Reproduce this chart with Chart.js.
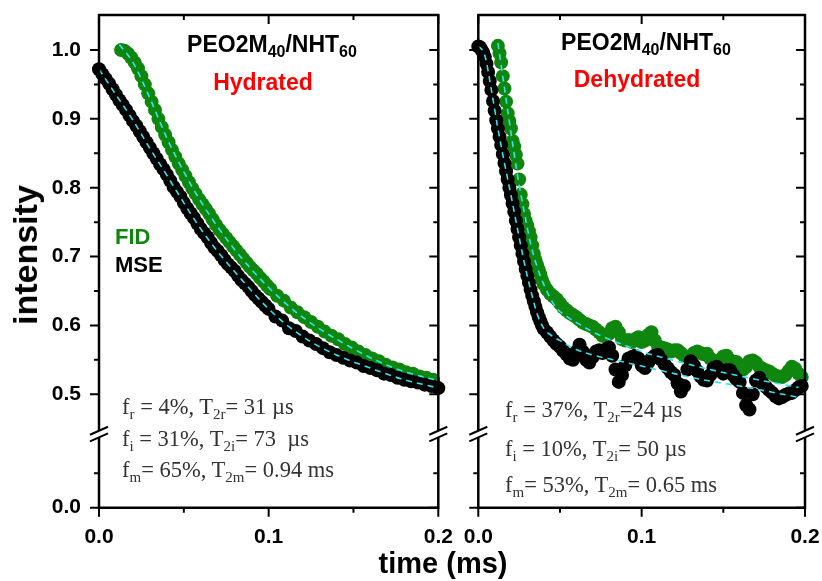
<!DOCTYPE html>
<html>
<head>
<meta charset="utf-8">
<script src="https://cdn.jsdelivr.net/npm/chart.js@4.4.1/dist/chart.umd.min.js"></script>
<style>
    body { margin: 0; background: #fff; width: 822px; height: 581px; overflow: hidden; position: relative;
           font-family: 'Liberation Sans', Arial, sans-serif; }
    canvas { position: absolute; top: 0; }
    #hydCanvas { left: 0; }
    #dehCanvas { left: 450px; }
    .lbl { position: absolute; white-space: nowrap; font-weight: bold; line-height: 1; }
    .lbl sub { font-size: 16px; vertical-align: baseline; position: relative; top: 5px; line-height: 0; }
    .center { transform: translateX(-50%); }
    .note { position: absolute; white-space: nowrap; line-height: 1; color: #333;
            font-family: 'Liberation Serif', 'Times New Roman', serif; font-size: 22.5px; }
    .note sub { font-size: 15px; vertical-align: baseline; position: relative; top: 5px; line-height: 0; }
</style>
</head>
<body>
<canvas id="hydCanvas" width="460" height="581"></canvas>
<canvas id="dehCanvas" width="372" height="581"></canvas>

<div class="lbl center" style="left:272px; top:32.8px; font-size:23px;">PEO2M<sub>40</sub>/NHT<sub>60</sub></div>
<div class="lbl center" style="left:263px; top:71px; font-size:23px; color:#ff0000;">Hydrated</div>
<div class="lbl center" style="left:646px; top:30.5px; font-size:23px;">PEO2M<sub>40</sub>/NHT<sub>60</sub></div>
<div class="lbl center" style="left:637px; top:68px; font-size:23px; color:#ff0000;">Dehydrated</div>
<div class="lbl" style="left:115px; top:226.4px; font-size:22px; color:#0f870f;">FID</div>
<div class="lbl" style="left:115px; top:254.4px; font-size:22px;">MSE</div>
<div class="lbl center" style="left:443px; top:548.5px; font-size:29px;">time (ms)</div>
<div class="lbl" style="left:25px; top:255px; font-size:34px; transform: translate(-50%, -50%) rotate(-90deg);">intensity</div>

<div class="note" style="left:122px; top:396.2px;">f<sub>r</sub> = 4%, T<sub>2r</sub>= 31 µs</div>
<div class="note" style="left:122px; top:427.9px;">f<sub>i</sub> = 31%, T<sub>2i</sub>= 73 &nbsp;µs</div>
<div class="note" style="left:122px; top:459.2px;">f<sub>m</sub>= 65%, T<sub>2m</sub>= 0.94 ms</div>
<div class="note" style="left:505px; top:399.2px;">f<sub>r</sub> = 37%, T<sub>2r</sub>=24 µs</div>
<div class="note" style="left:505px; top:437.9px;">f<sub>i</sub> = 10%, T<sub>2i</sub>= 50 µs</div>
<div class="note" style="left:505px; top:474.2px;">f<sub>m</sub>= 53%, T<sub>2m</sub>= 0.65 ms</div>

<script>
// ---- data (time in ms, normalised intensity) ----

// Hydrated, MSE (black)
const tMseHyd = [0.000,0.002,0.004,0.006,0.008,0.010,0.012,0.014,0.016,0.018,0.020,0.022,0.024,0.026,0.028,0.030,0.032,0.034,0.036,0.038,
    0.040,0.042,0.044,0.046,0.048,0.050,0.052,0.054,0.056,0.058,0.060,0.062,0.064,0.066,0.068,0.070,0.072,0.074,0.076,0.078,
    0.080,0.082,0.084,0.086,0.088,0.090,0.092,0.094,0.096,0.098,
    0.100,0.104,0.108,0.112,0.116,0.120,0.124,0.128,0.132,0.136,0.140,0.144,0.148,0.152,0.156,0.160,0.164,0.168,0.172,0.176,
    0.180,0.184,0.188,0.192,0.196,0.200];
const mseHyd = [0.972,0.965,0.958,0.951,0.943,0.935,0.927,0.920,0.913,0.905,0.897,0.890,0.882,0.874,0.866,0.858,0.850,0.842,0.834,0.827,
    0.819,0.810,0.801,0.794,0.787,0.778,0.770,0.763,0.756,0.748,0.740,0.734,0.728,0.720,0.713,0.708,0.702,0.695,0.689,0.684,
    0.679,0.672,0.666,0.661,0.656,0.650,0.644,0.639,0.634,0.629,
    0.624,0.613,0.607,0.596,0.592,0.584,0.578,0.573,0.567,0.561,0.557,0.553,0.549,0.546,0.541,0.538,0.535,0.530,0.528,0.524,
    0.521,0.519,0.517,0.514,0.512,0.509];

// Hydrated, FID (green)
const tFidHyd = [0.013,0.015,0.017,0.019,0.021,0.023,0.025,0.027,0.029,0.031,0.033,0.035,0.037,0.039,0.041,0.043,0.045,0.047,0.049,0.051,
    0.053,0.055,0.057,0.059,0.061,0.063,0.065,0.067,0.069,0.071,0.073,0.075,0.077,0.079,0.081,0.083,0.085,0.087,0.089,0.091,
    0.093,0.095,0.097,0.099,
    0.101,0.105,0.109,0.113,0.117,0.121,0.125,0.129,0.133,0.137,0.141,0.145,0.149,0.153,0.157,0.161,0.165,0.169,0.173,0.177,
    0.181,0.185,0.189,0.193,0.197];
const fidHyd = [1.000,0.999,0.995,0.989,0.982,0.973,0.962,0.950,0.937,0.925,0.913,0.900,0.888,0.877,0.866,0.855,0.845,0.835,0.826,0.817,
    0.808,0.799,0.791,0.783,0.776,0.769,0.762,0.754,0.746,0.739,0.733,0.727,0.721,0.715,0.709,0.703,0.697,0.691,0.685,0.680,
    0.675,0.669,0.664,0.658,
    0.653,0.643,0.636,0.626,0.619,0.612,0.605,0.598,0.591,0.585,0.580,0.573,0.568,0.562,0.557,0.552,0.548,0.543,0.539,0.536,
    0.532,0.530,0.526,0.524,0.521];

// Hydrated fits (cyan dashed)
const tMseHydFit = [0,0.01,0.02,0.03,0.04,0.05,0.06,0.07,0.08,0.09,0.10,0.11,0.12,0.13,0.14,0.15,0.16,0.17,0.18,0.19,0.20];
const mseHydFit = [0.972,0.935,0.898,0.857,0.818,0.778,0.740,0.707,0.678,0.650,0.624,0.602,0.584,0.569,0.557,0.547,0.538,0.529,0.521,0.515,0.509];
const tFidHydFit = [0.012,0.02,0.03,0.04,0.05,0.06,0.07,0.08,0.09,0.10,0.11,0.12,0.13,0.14,0.15,0.16,0.17,0.18,0.19,0.20];
const fidHydFit = [1.008,0.982,0.930,0.872,0.823,0.780,0.743,0.710,0.681,0.655,0.632,0.612,0.595,0.580,0.566,0.553,0.542,0.533,0.526,0.520];

// Dehydrated: sampling times of the fast drop and of the slow tail
const tMseDehHead = [0.000,0.001,0.002,0.003,0.004,0.005,0.006,0.007,0.008,0.009,0.010,0.011,0.012,0.013,0.014,0.015,0.016,0.017,0.018,0.019,
    0.020,0.021,0.022,0.023,0.024,0.025,0.026,0.027,0.028,0.029,0.030,0.031,0.032,0.033,0.034,0.035,0.036,0.037,0.038,0.039,0.040];
const tFidDehHead = [0.012,0.013,0.014,0.015,0.016,0.017,0.018,0.019,0.020,0.021,0.022,0.023,0.024,0.025,0.026,0.027,0.028,0.029,0.030,0.031,
    0.032,0.033,0.034,0.035,0.036,0.037,0.038,0.039,0.040];
const tDehTail = [0.042,0.044,0.046,0.048,0.050,0.052,0.054,0.056,0.058,0.060,0.062,0.064,0.066,0.068,0.070,0.072,0.074,0.076,0.078,0.080,
    0.082,0.084,0.086,0.088,0.090,0.092,0.094,0.096,0.098,0.100,0.102,0.104,0.106,0.108,0.110,0.112,0.114,0.116,0.118,0.120,
    0.122,0.124,0.126,0.128,0.130,0.132,0.134,0.136,0.138,0.140,0.142,0.144,0.146,0.148,0.150,0.152,0.154,0.156,0.158,0.160,
    0.162,0.164,0.166,0.168,0.170,0.172,0.174,0.176,0.178,0.180,0.182,0.184,0.186,0.188,0.190,0.192,0.194,0.196,0.198];

// Dehydrated, MSE (black)
const mseDehHead = [1.005,1.004,1.000,0.996,0.990,0.980,0.968,0.955,0.942,0.926,0.912,0.898,0.886,0.874,0.862,0.849,0.836,0.824,0.812,0.800,
    0.789,0.777,0.765,0.752,0.740,0.728,0.716,0.704,0.693,0.682,0.672,0.662,0.652,0.643,0.635,0.627,0.619,0.612,0.606,0.600,0.595];
const mseDehTail = [0.590,0.584,0.578,0.573,0.569,0.563,0.558,0.552,0.550,0.562,0.572,0.562,0.550,0.546,0.554,0.562,0.564,0.560,0.565,0.568,
    0.556,0.536,0.518,0.528,0.542,0.552,0.554,0.556,0.552,0.542,0.538,0.546,0.552,0.556,0.557,0.550,0.544,0.538,0.532,0.528,
    0.516,0.504,0.512,0.536,0.548,0.542,0.534,0.526,0.521,0.520,0.528,0.538,0.540,0.534,0.530,0.535,0.535,0.528,0.522,0.518,
    0.502,0.484,0.478,0.500,0.520,0.524,0.516,0.511,0.506,0.502,0.497,0.494,0.496,0.499,0.501,0.502,0.506,0.510,0.512];

// Dehydrated, FID (green)
const fidDehHead = [1.006,0.995,0.982,0.962,0.944,0.925,0.908,0.897,0.886,0.868,0.860,0.848,0.835,0.812,0.790,0.776,0.762,0.752,0.745,0.737,
    0.728,0.716,0.704,0.695,0.688,0.681,0.674,0.666,0.660];
const fidDehTail = [0.652,0.646,0.642,0.638,0.632,0.626,0.622,0.618,0.615,0.612,0.608,0.604,0.602,0.600,0.598,0.594,0.590,0.585,0.584,0.588,
    0.596,0.598,0.590,0.580,0.578,0.579,0.576,0.580,0.583,0.576,0.578,0.586,0.590,0.578,0.570,0.568,0.567,0.565,0.562,0.564,
    0.564,0.560,0.556,0.554,0.555,0.560,0.562,0.560,0.558,0.559,0.552,0.547,0.545,0.550,0.555,0.556,0.550,0.547,0.547,0.542,
    0.536,0.540,0.548,0.549,0.546,0.540,0.537,0.535,0.533,0.530,0.527,0.526,0.525,0.528,0.534,0.540,0.537,0.530,0.525];

// Dehydrated fits
const tMseDehFit = [0,0.004,0.008,0.012,0.016,0.020,0.024,0.028,0.032,0.036,0.040,0.045,0.050,0.060,0.070,0.085,0.100,0.120,0.140,0.160,0.180,0.195];
const mseDehFit = [1.006,0.992,0.942,0.886,0.836,0.789,0.740,0.693,0.652,0.617,0.596,0.585,0.578,0.565,0.557,0.549,0.541,0.530,0.520,0.512,0.503,0.496];
const tFidDehFit = [0.012,0.016,0.020,0.024,0.028,0.032,0.036,0.040,0.047,0.054,0.061,0.069,0.077,0.092,0.104,0.120,0.140,0.167,0.196];
const fidDehFit = [1.010,0.945,0.880,0.818,0.766,0.719,0.685,0.660,0.628,0.613,0.603,0.592,0.583,0.569,0.559,0.549,0.537,0.523,0.510];

// axis ticks (broken y axis: lower segment 0..0.107, upper segment 0.442..1.051)
const xMajor = [0, 0.1, 0.2];
const xMinor = [0.05, 0.15];
const yHiMajor = [0.5, 0.6, 0.7, 0.8, 0.9, 1.0];
const yHiMinor = [0.55, 0.65, 0.75, 0.85, 0.95];
const yLoMajor = [0];
const yLoMinor = [0.05];
const yHiRange = [0.4423, 1.0508];
const yLoRange = [0, 0.107];

const GREEN = '#0f870f';
const CYAN = '#33e3f0';
const SANS = "'Liberation Sans', Arial, sans-serif";

const pts = (xs, ys) => xs.map((x, i) => ({ x: x, y: ys[i] }));

const dotSet = (xs, ys, color, order) => ({
    data: pts(xs, ys),
    yAxisID: 'yHi',
    pointRadius: 7,
    pointBorderWidth: 0,
    pointBackgroundColor: color,
    pointBorderColor: color,
    showLine: false,
    clip: false,
    order: order
});

const fitSet = (xs, ys) => ({
    data: pts(xs, ys),
    yAxisID: 'yHi',
    showLine: true,
    pointRadius: 0,
    borderColor: CYAN,
    borderWidth: 1.6,
    borderDash: [6, 5],
    cubicInterpolationMode: 'monotone',
    clip: false,
    order: 0
});

// frame, inward/outward ticks and the axis break marks
const framePlugin = {
    id: 'frame',
    afterDraw(chart) {
        const ctx = chart.ctx;
        const { left, right, top, bottom } = chart.chartArea;
        const xs = chart.scales.x, hi = chart.scales.yHi, lo = chart.scales.yLo;
        const gapY = (hi.bottom + lo.top) / 2;
        ctx.save();
        ctx.strokeStyle = '#000';
        ctx.lineWidth = 2.5;
        ctx.beginPath();
        ctx.moveTo(left - 1.25, top); ctx.lineTo(right + 1.25, top);
        ctx.moveTo(left - 1.25, bottom); ctx.lineTo(right + 1.25, bottom);
        [left, right].forEach(px => {
            ctx.moveTo(px, top); ctx.lineTo(px, gapY - 3);
            ctx.moveTo(px, gapY + 3); ctx.lineTo(px, bottom);
        });
        ctx.stroke();

        ctx.lineWidth = 2;
        ctx.beginPath();
        const yTick = (scale, vals, len) => vals.forEach(v => {
            const py = scale.getPixelForValue(v);
            ctx.moveTo(left - len, py); ctx.lineTo(left, py);      // outward on the left
            ctx.moveTo(right - len, py); ctx.lineTo(right, py);    // inward on the right
        });
        yTick(hi, yHiMajor, 9); yTick(hi, yHiMinor, 5);
        yTick(lo, yLoMajor, 9); yTick(lo, yLoMinor, 5);
        const xTick = (vals, len) => vals.forEach(v => {
            const px = xs.getPixelForValue(v);
            ctx.moveTo(px, bottom); ctx.lineTo(px, bottom + len);  // outward at the bottom
            ctx.moveTo(px, top); ctx.lineTo(px, top + len);        // inward at the top
        });
        xTick(xMajor, 9); xTick(xMinor, 5);
        ctx.stroke();

        ctx.beginPath();
        [left, right].forEach(px => {
            [-3.3, 3.3].forEach(d => {
                ctx.moveTo(px - 9, gapY + d + 4); ctx.lineTo(px + 9, gapY + d - 4);
            });
        });
        ctx.stroke();
        ctx.restore();
    }
};

const yFit = w => s => { s.width = w; s.paddingTop = 0; s.paddingBottom = 0; };

const makePanel = (id, yWidth, padRight, showY, datasets) => new Chart(document.getElementById(id), {
    type: 'scatter',
    data: { datasets: datasets },
    options: {
        responsive: false,
        animation: false,
        devicePixelRatio: 1,
        events: [],
        layout: { padding: { top: 15, right: padRight, left: 0, bottom: 0 } },
        plugins: { legend: { display: false }, tooltip: { enabled: false } },
        scales: {
            x: {
                type: 'linear', position: 'bottom', min: 0, max: 0.2,
                afterFit: s => { s.height = 73.3; s.paddingLeft = 0; s.paddingRight = 0; },
                grid: { display: false, drawTicks: false },
                border: { display: false },
                ticks: {
                    stepSize: 0.1, includeBounds: false, maxRotation: 0, padding: 17, color: '#000',
                    font: { family: SANS, size: 21, weight: 'bold' },
                    callback: v => v.toFixed(1)
                }
            },
            // lower segment listed first so the upper segment is stacked on top of it
            yLo: {
                type: 'linear', position: 'left', stack: 'y', stackWeight: yLoRange[1] - yLoRange[0],
                min: yLoRange[0], max: yLoRange[1],
                afterFit: yFit(yWidth),
                grid: { display: false, drawTicks: false },
                border: { display: false },
                ticks: {
                    display: showY, stepSize: 0.1, includeBounds: false, padding: 18, color: '#000',
                    font: { family: SANS, size: 21, weight: 'bold' },
                    callback: v => (v === 0 ? '0.0' : '')
                }
            },
            yHi: {
                type: 'linear', position: 'left', stack: 'y', stackWeight: yHiRange[1] - yHiRange[0],
                min: yHiRange[0], max: yHiRange[1],
                afterFit: yFit(yWidth),
                grid: { display: false, drawTicks: false },
                border: { display: false },
                ticks: {
                    display: showY, stepSize: 0.1, includeBounds: false, padding: 18, color: '#000',
                    font: { family: SANS, size: 21, weight: 'bold' },
                    callback: v => v.toFixed(1)
                }
            }
        }
    },
    plugins: [framePlugin]
});

makePanel('hydCanvas', 99, 21.7, true, [
    fitSet(tMseHydFit, mseHydFit),
    fitSet(tFidHydFit, fidHydFit),
    dotSet(tMseHyd, mseHyd, '#000', 1),
    dotSet(tFidHyd, fidHyd, GREEN, 2)
]);

makePanel('dehCanvas', 28.3, 17, false, [
    fitSet(tMseDehFit, mseDehFit),
    fitSet(tFidDehFit, fidDehFit),
    dotSet(tMseDehHead.concat(tDehTail), mseDehHead.concat(mseDehTail), '#000', 1),
    dotSet(tFidDehHead.concat(tDehTail), fidDehHead.concat(fidDehTail), GREEN, 2)
]);
</script>
</body>
</html>
